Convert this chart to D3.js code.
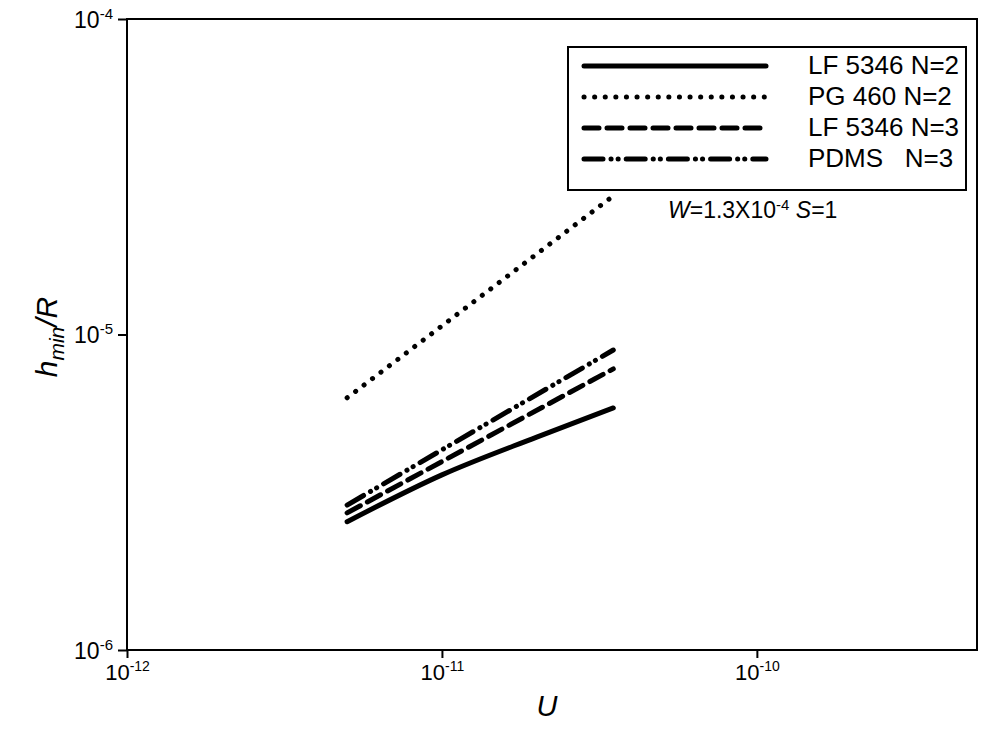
<!DOCTYPE html>
<html><head><meta charset="utf-8">
<script src="https://cdn.jsdelivr.net/npm/d3@7"></script>
<style>body{margin:0;background:#fff}svg{display:block}text{font-family:"Liberation Sans",Arial,sans-serif}</style>
</head><body>
<script>
const xTicks = [1e-12, 1e-11, 1e-10];
const xTickExp = ["-12", "-11", "-10"];
const yTicks = [1e-6, 1e-5, 1e-4];
const yTickExp = ["-6", "-5", "-4"];
const seriesNames = ["LF 5346 N=2", "PG 460 N=2", "LF 5346 N=3", "PDMS   N=3"];
const uLF2 = [5e-12, 1e-11, 2e-11, 3.5e-11];
const hLF2 = [2.55e-6, 3.59e-6, 4.73e-6, 5.85e-6];
const uPG2 = [5e-12, 3.5e-11];
const hPG2 = [6.3e-6, 2.75e-5];
const uLF3 = [5e-12, 3.5e-11];
const hLF3 = [2.72e-6, 7.78e-6];
const uPDMS3 = [5e-12, 3.5e-11];
const hPDMS3 = [2.88e-6, 8.93e-6];

const W = 981, H = 731;
const m = {left: 127, right: 977, top: 19, bottom: 650};
const svg = d3.select("body").append("svg").attr("width", W).attr("height", H);
const x = d3.scaleLog().domain([1e-12, 5e-10]).range([m.left, m.right]);
const y = d3.scaleLog().domain([1e-6, 1e-4]).range([m.bottom, m.top]);

const styles = [
  {dash: null, w: 5},
  {dash: "0.1 10.5", w: 5},
  {dash: "15 8", w: 5},
  {dash: "19 8 0.1 7 0.1 8", w: 5}
];
const series = [
  {u: uLF2, h: hLF2}, {u: uPG2, h: hPG2}, {u: uLF3, h: hLF3}, {u: uPDMS3, h: hPDMS3}
];

// frame
svg.append("rect").attr("x", m.left).attr("y", m.top)
  .attr("width", m.right - m.left).attr("height", m.bottom - m.top)
  .attr("fill", "none").attr("stroke", "#000").attr("stroke-width", 2);

// axes
const xAxis = d3.axisBottom(x).tickValues(xTicks).tickSize(8).tickFormat("");
const gx = svg.append("g").attr("transform", `translate(0,${m.bottom})`).call(xAxis);
gx.select(".domain").remove();
gx.selectAll(".tick line").attr("stroke-width", 2);
gx.selectAll(".tick").append("text").attr("y", 30).attr("fill", "#000")
  .attr("text-anchor", "middle").attr("font-size", 22)
  .each(function(d, i) {
    const t = d3.select(this);
    t.append("tspan").text("10");
    t.append("tspan").attr("dy", -9).attr("font-size", 14).text(xTickExp[i]);
  });

const yAxis = d3.axisLeft(y).tickValues(yTicks).tickSize(9).tickFormat("");
const gy = svg.append("g").attr("transform", `translate(${m.left},0)`).call(yAxis);
gy.select(".domain").remove();
gy.selectAll(".tick line").attr("stroke-width", 2);
gy.selectAll(".tick").append("text").attr("x", -14).attr("y", 8).attr("fill", "#000")
  .attr("text-anchor", "end").attr("font-size", 23)
  .each(function(d, i) {
    const t = d3.select(this);
    t.append("tspan").text("10");
    t.append("tspan").attr("dy", -9).attr("font-size", 15).text(yTickExp[i]);
  });

// lines
const line = d3.line().x(d => x(d[0])).y(d => y(d[1])).curve(d3.curveMonotoneX);
series.forEach((s, i) => {
  svg.append("path").datum(s.u.map((u, j) => [u, s.h[j]]))
    .attr("d", line).attr("fill", "none").attr("stroke", "#000")
    .attr("stroke-width", styles[i].w).attr("stroke-linecap", "round")
    .attr("stroke-dasharray", styles[i].dash);
});

// legend
const lg = svg.append("g");
lg.append("rect").attr("x", 568).attr("y", 47).attr("width", 398).attr("height", 143)
  .attr("fill", "#fff").attr("stroke", "#000").attr("stroke-width", 2);
seriesNames.forEach((n, i) => {
  const yy = 66 + i * 31;
  lg.append("line").attr("x1", 584).attr("x2", 766).attr("y1", yy).attr("y2", yy)
    .attr("stroke", "#000").attr("stroke-width", styles[i].w).attr("stroke-linecap", "round")
    .attr("stroke-dasharray", styles[i].dash);
  lg.append("text").attr("x", 808).attr("y", yy + 8).attr("font-size", 26)
    .attr("xml:space", "preserve").style("white-space", "pre").text(n);
});

// annotation
const ann = svg.append("text").attr("x", 668).attr("y", 218).attr("font-size", 23);
ann.append("tspan").attr("font-style", "italic").text("W");
ann.append("tspan").text("=1.3X10");
ann.append("tspan").attr("dy", -8).attr("font-size", 15).text("-4");
ann.append("tspan").attr("dy", 8).text(" ");
ann.append("tspan").attr("font-style", "italic").text("S");
ann.append("tspan").text("=1");

// axis titles
svg.append("text").attr("x", 547).attr("y", 716).attr("text-anchor", "middle")
  .attr("font-size", 29).attr("font-style", "italic").text("U");
const yl = svg.append("text").attr("transform", "translate(57,337) rotate(-90)")
  .attr("text-anchor", "middle").attr("font-size", 30).attr("font-style", "italic");
yl.append("tspan").text("h");
yl.append("tspan").attr("dy", 7).attr("font-size", 21).text("min");
yl.append("tspan").attr("dy", -7).text("/R");
</script>
</body></html>
